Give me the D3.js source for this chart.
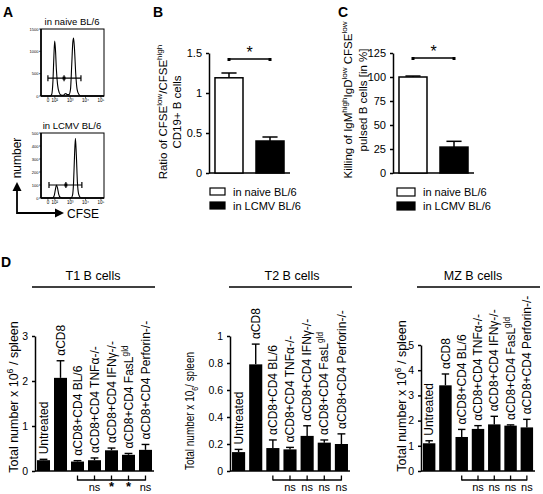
<!DOCTYPE html>
<html><head><meta charset="utf-8">
<script src="https://cdn.jsdelivr.net/npm/d3@7"></script>
<style>
body{margin:0;background:#fff}
svg{display:block}
text{font-family:"Liberation Sans",Arial,sans-serif;fill:#000}
</style>
</head><body>
<svg id="c" width="543" height="494"></svg>
<script>
// ---------------- DATA ----------------
// Panel A: CFSE histograms (x in log10 decades, y = cell count)
const histNaive = [[1.10,0],[1.70,0],[1.80,40],[1.88,350],[1.94,900],[1.99,1230],[2.04,1050],[2.10,600],[2.18,250],[2.28,80],[2.40,20],[2.55,15],[2.65,45],[2.72,55],[2.80,30],[2.92,30],[3.02,150],[3.10,700],[3.17,1200],[3.22,1300],[3.28,1050],[3.36,500],[3.45,150],[3.56,40],[3.70,0],[5.20,0]];
const histLcmv = [[1.10,0],[1.85,0],[1.95,15],[2.03,60],[2.10,100],[2.17,80],[2.25,30],[2.35,5],[2.50,0],[3.05,0],[3.15,20],[3.22,120],[3.28,320],[3.34,460],[3.40,330],[3.47,120],[3.55,30],[3.65,5],[3.75,0],[5.20,0]];
const histXTickVals = [1.55, 2, 3, 4, 5];
const histXTickLabels = ["0", "10²", "10³", "10⁴", "10⁵"];
const histNaiveYTicks = [0, 500, 1000, 1500];
const histLcmvYTicks = [0, 100, 200, 300, 400, 500];
const gateNaive = [1.55, 2.6, 3.7, 400];   // from, marker, to, level
const gateLcmv = [1.62, 2.72, 3.76, 100];
const histTitles = ["in naive BL/6", "in LCMV BL/6"];

// Panels B, C
const groups = ["in naive BL/6", "in LCMV BL/6"];
const ratioValues = [1.19, 0.40];
const ratioErrors = [0.06, 0.05];
const ratioTicks = [0, 0.5, 1, 1.5];
const killValues = [100, 27];
const killErrors = [1, 6];
const killTicks = [0, 25, 50, 75, 100, 125];

// Panel D
const treatments = ["Untreated", "αCD8", "αCD8+CD4 BL/6", "αCD8+CD4 TNFα-/-", "αCD8+CD4 IFNγ-/-", "αCD8+CD4 FasL^{gld}", "αCD8+CD4 Perforin-/-"];
const t1Values = [0.24, 2.07, 0.21, 0.24, 0.46, 0.36, 0.47];
const t1Errors = [0.02, 0.38, 0.02, 0.05, 0.05, 0.03, 0.12];
const t1Ticks = [0, 1, 2, 3];
const t1Sig = ["ns", "*", "*", "ns"];
const t2Values = [0.14, 0.79, 0.17, 0.16, 0.26, 0.21, 0.20];
const t2Errors = [0.02, 0.15, 0.06, 0.015, 0.075, 0.02, 0.075];
const t2Ticks = [0, 0.2, 0.4, 0.6, 0.8, 1];
const t2Sig = ["ns", "ns", "ns", "ns"];
const mzValues = [1.10, 3.40, 1.35, 1.67, 1.85, 1.80, 1.73];
const mzErrors = [0.10, 0.45, 0.30, 0.13, 0.32, 0.03, 0.32];
const mzTicks = [0, 1, 2, 3, 4, 5];
const mzSig = ["ns", "ns", "ns", "ns"];

// ---------------- HELPERS ----------------
const svg = d3.select("#c");

function rich(sel, str, size) {
  const toks = []; const re = /(\^|_)\{([^}]*)\}/g; let last = 0, m;
  while ((m = re.exec(str))) {
    if (m.index > last) toks.push({t: str.slice(last, m.index), k: 0});
    toks.push({t: m[2], k: m[1] === "^" ? 1 : -1});
    last = re.lastIndex;
  }
  if (last < str.length) toks.push({t: str.slice(last), k: 0});
  let cur = 0;
  toks.forEach(tk => {
    const off = tk.k === 1 ? -0.42 * size : tk.k === -1 ? 0.3 * size : 0;
    sel.append("tspan").attr("dy", off - cur).attr("font-size", tk.k ? size * 0.7 : size).text(tk.t);
    cur = off;
  });
  return sel;
}

function rotText(g, cx, cy, str, size, anchor, len) {
  const t = g.append("text")
    .attr("transform", `translate(${cx + 0.35 * size},${cy}) rotate(-90)`)
    .attr("text-anchor", anchor || "middle").attr("font-size", size);
  rich(t, str, size);
  if (len) t.attr("textLength", len).attr("lengthAdjust", "spacingAndGlyphs");
  return t;
}

function panelLabel(x, y, s) {
  svg.append("text").attr("x", x).attr("y", y).attr("font-size", 14).attr("font-weight", "bold").text(s);
}

// ---------------- PANEL A ----------------
panelLabel(3, 17, "A");
const hx = d3.scaleLinear().domain([1.1, 5.2]).range([41, 104]);

function histogram(data, yMax, yTicks, gate, top, bottom, title) {
  const y = d3.scaleLinear().domain([0, yMax]).range([bottom, top]);
  const g = svg.append("g");
  g.append("text").attr("x", 72).attr("y", top - 4).attr("text-anchor", "middle").attr("font-size", 9.5).text(title);
  g.append("rect").attr("x", hx.range()[0]).attr("y", top).attr("width", hx.range()[1] - hx.range()[0])
    .attr("height", bottom - top).attr("fill", "none").attr("stroke", "#000").attr("stroke-width", 1);
  g.append("line").attr("x1", hx.range()[0]).attr("x2", hx.range()[0]).attr("y1", top).attr("y2", bottom)
    .attr("stroke", "#000").attr("stroke-width", 1.6);
  g.append("line").attr("x1", hx.range()[0]).attr("x2", hx.range()[1]).attr("y1", bottom).attr("y2", bottom)
    .attr("stroke", "#000").attr("stroke-width", 1.6);
  yTicks.forEach(v => {
    g.append("line").attr("x1", hx.range()[0] - 2).attr("x2", hx.range()[0]).attr("y1", y(v)).attr("y2", y(v)).attr("stroke", "#000").attr("stroke-width", 0.6);
    g.append("text").attr("x", hx.range()[0] - 2.5).attr("y", y(v) + 1.5).attr("text-anchor", "end").attr("font-size", 4).attr("fill", "#222").text(v);
  });
  histXTickVals.forEach((v, i) => {
    g.append("line").attr("x1", hx(v)).attr("x2", hx(v)).attr("y1", bottom).attr("y2", bottom + 2).attr("stroke", "#000").attr("stroke-width", 0.6);
    g.append("text").attr("x", hx(v)).attr("y", bottom + 6).attr("text-anchor", "middle").attr("font-size", 4.5).attr("fill", "#222").text(histXTickLabels[i]);
  });
  const line = d3.line().x(d => hx(d[0])).y(d => y(d[1])).curve(d3.curveMonotoneX);
  g.append("path").attr("d", line(data)).attr("fill", "none").attr("stroke", "#000").attr("stroke-width", 1.1);
  const gy = y(gate[3]);
  g.append("line").attr("x1", hx(gate[0])).attr("x2", hx(gate[2])).attr("y1", gy).attr("y2", gy).attr("stroke", "#000").attr("stroke-width", 1.2);
  [gate[0], gate[2], gate[1]].forEach(v => g.append("line").attr("x1", hx(v)).attr("x2", hx(v)).attr("y1", gy - 3).attr("y2", gy + 3).attr("stroke", "#000").attr("stroke-width", 1.2));
  g.append("rect").attr("x", hx(gate[1]) - 1.5).attr("y", gy - 1.5).attr("width", 3).attr("height", 3).attr("fill", "#000");
}
histogram(histNaive, 1500, histNaiveYTicks, gateNaive, 29, 96, histTitles[0]);
histogram(histLcmv, 500, histLcmvYTicks, gateLcmv, 133, 198, histTitles[1]);

// axes arrows
svg.append("path").attr("d", "M17,190 L17,213 L56,213").attr("fill", "none").attr("stroke", "#000").attr("stroke-width", 1.8);
svg.append("path").attr("d", "M12.5,191 L17,182 L21.5,191 Z").attr("fill", "#000");
svg.append("path").attr("d", "M55,208.5 L64,213 L55,217.5 Z").attr("fill", "#000");
svg.append("text").attr("x", 67).attr("y", 217.5).attr("font-size", 12).text("CFSE");
rotText(svg, 17, 158, "number", 12);

// ---------------- PANELS B & C ----------------
function twoBar(cfg) {
  const g = svg.append("g");
  const y = d3.scaleLinear().domain(cfg.domain).range([173, 53]);
  const x = d3.scaleBand().domain(groups).range(cfg.xr).paddingInner(0.317).paddingOuter(0.146);
  g.append("g").attr("transform", `translate(${cfg.xr[0]},0)`)
    .call(d3.axisLeft(y).tickValues(cfg.ticks).tickSize(3).tickSizeOuter(0).tickFormat(d3.format("")))
    .call(a => a.selectAll("path,line").attr("stroke-width", 1.5))
    .call(a => a.selectAll("text").attr("font-size", 11).attr("font-family", "Liberation Sans, Arial, sans-serif").attr("dx", -1));
  g.append("line").attr("x1", cfg.xr[0]).attr("x2", cfg.xr[1]).attr("y1", y(0)).attr("y2", y(0)).attr("stroke", "#000").attr("stroke-width", 1.5);
  groups.forEach((k, i) => {
    const v = cfg.values[i], e = cfg.errors[i], cx = x(k) + x.bandwidth() / 2;
    g.append("line").attr("x1", cx).attr("x2", cx).attr("y1", y(v)).attr("y2", y(v + e)).attr("stroke", "#000").attr("stroke-width", 1.5);
    g.append("line").attr("x1", cx - x.bandwidth() * 0.27).attr("x2", cx + x.bandwidth() * 0.27).attr("y1", y(v + e)).attr("y2", y(v + e)).attr("stroke", "#000").attr("stroke-width", 1.5);
    g.append("rect").attr("x", x(k)).attr("y", y(v)).attr("width", x.bandwidth()).attr("height", y(0) - y(v))
      .attr("fill", i ? "#000" : "#fff").attr("stroke", "#000").attr("stroke-width", 1.5);
  });
  const c0 = x(groups[0]) + x.bandwidth() / 2, c1 = x(groups[1]) + x.bandwidth() / 2;
  g.append("line").attr("x1", c0).attr("x2", c1).attr("y1", cfg.sigY).attr("y2", cfg.sigY).attr("stroke", "#000").attr("stroke-width", 1.6);
  [c0, c1].forEach(c => g.append("rect").attr("x", c - 1.5).attr("y", cfg.sigY - 1).attr("width", 3).attr("height", 3).attr("fill", "#000"));
  g.append("text").attr("x", (c0 + c1) / 2).attr("y", cfg.sigY - 1).attr("text-anchor", "middle").attr("font-size", 16).text("*");
  // y label
  cfg.ylabel.forEach((l, i) => rotText(g, cfg.lx[i], cfg.ly, l, cfg.lsize));
  // legend
  groups.forEach((k, i) => {
    g.append("rect").attr("x", cfg.legX).attr("y", 188 + i * 14).attr("width", cfg.legW).attr("height", cfg.legH)
      .attr("fill", i ? "#000" : "#fff").attr("stroke", "#000").attr("stroke-width", 1.2);
    g.append("text").attr("x", cfg.legX + cfg.legW + 8).attr("y", 195.5 + i * 14).attr("font-size", 11).text(k);
  });
}
panelLabel(153, 17, "B");
twoBar({domain: [0, 1.5], ticks: ratioTicks, xr: [209, 290], values: ratioValues, errors: ratioErrors, sigY: 59,
  ylabel: ["Ratio of CFSE^{low}/CFSE^{high}", "CD19+ B cells"], lx: [163, 177], ly: 112, lsize: 11.5,
  legX: 210, legW: 15, legH: 7});
panelLabel(338, 17, "C");
twoBar({domain: [0, 125], ticks: killTicks, xr: [393, 474], values: killValues, errors: killErrors, sigY: 58,
  ylabel: ["Killing of IgM^{high}IgD^{low} CFSE^{low}", "pulsed B cells [in %]"], lx: [348, 363], ly: 100, lsize: 11.5,
  legX: 397, legW: 18, legH: 8});

// ---------------- PANEL D ----------------
panelLabel(1, 267, "D");
function dPanel(cfg) {
  const g = svg.append("g");
  g.append("text").attr("x", cfg.titleX).attr("y", 280).attr("text-anchor", "middle").attr("font-size", 12.5).text(cfg.title);
  g.append("line").attr("x1", cfg.lineX[0]).attr("x2", cfg.lineX[1]).attr("y1", 287).attr("y2", 287).attr("stroke", "#000").attr("stroke-width", 1.3);
  const y = d3.scaleLinear().domain(cfg.domain).range([471, cfg.top]);
  const x = d3.scaleBand().domain(treatments).range(cfg.xr).paddingInner(0.235).paddingOuter(0.118);
  g.append("g").attr("transform", `translate(${cfg.xr[0]},0)`)
    .call(d3.axisLeft(y).tickValues(cfg.ticks).tickSize(3).tickSizeOuter(0).tickFormat(d3.format("")))
    .call(a => a.selectAll("path,line").attr("stroke-width", 1.5))
    .call(a => a.selectAll("text").attr("font-size", 10.5).attr("font-family", "Liberation Sans, Arial, sans-serif").attr("dx", -1));
  g.append("line").attr("x1", cfg.xr[0]).attr("x2", cfg.xr[1]).attr("y1", 471).attr("y2", 471).attr("stroke", "#000").attr("stroke-width", 1.5);
  treatments.forEach((k, i) => {
    const v = cfg.values[i], e = cfg.errors[i], cx = x(k) + x.bandwidth() / 2;
    g.append("line").attr("x1", cx).attr("x2", cx).attr("y1", y(v)).attr("y2", y(v + e)).attr("stroke", "#000").attr("stroke-width", 1.4);
    g.append("line").attr("x1", cx - x.bandwidth() * 0.3).attr("x2", cx + x.bandwidth() * 0.3).attr("y1", y(v + e)).attr("y2", y(v + e)).attr("stroke", "#000").attr("stroke-width", 1.4);
    g.append("rect").attr("x", x(k)).attr("y", y(v)).attr("width", x.bandwidth()).attr("height", 471 - y(v)).attr("fill", "#000");
    rotText(g, cx, y(v + e) - 5, k, 12, "start");
  });
  // bracket
  const cs = treatments.slice(2).map(k => x(k) + x.bandwidth() / 2);
  g.append("line").attr("x1", cs[0]).attr("x2", cs[cs.length - 1]).attr("y1", 480).attr("y2", 480).attr("stroke", "#000").attr("stroke-width", 1.3);
  cs.forEach(c => g.append("line").attr("x1", c).attr("x2", c).attr("y1", 475.5).attr("y2", 480.5).attr("stroke", "#000").attr("stroke-width", 1.3));
  cfg.sig.forEach((s, i) => {
    g.append("text").attr("x", cs[i + 1]).attr("y", s === "*" ? 491.2 : 491).attr("text-anchor", "middle")
      .attr("font-size", s === "*" ? 13 : 11).attr("font-weight", s === "*" ? "bold" : null).text(s);
  });
  rotText(g, cfg.lx, cfg.ly, cfg.ylabel, 12.5, "middle", cfg.llen);
}
dPanel({title: "T1 B cells", titleX: 93, lineX: [32, 155], domain: [0, 3], top: 336, ticks: t1Ticks, xr: [35, 154],
  values: t1Values, errors: t1Errors, sig: t1Sig, ylabel: "Total number x 10^{6} / spleen", lx: 14, ly: 397});
dPanel({title: "T2 B cells", titleX: 292, lineX: [229, 352], domain: [0, 1], top: 336, ticks: t2Ticks, xr: [230, 350],
  values: t2Values, errors: t2Errors, sig: t2Sig, ylabel: "Total number x 10_{6}/ spleen", lx: 190, ly: 411, llen: 118});
dPanel({title: "MZ B cells", titleX: 473, lineX: [417, 540], domain: [0, 5], top: 345, ticks: mzTicks, xr: [421, 535],
  values: mzValues, errors: mzErrors, sig: mzSig, ylabel: "Total number x 10^{6} / spleen", lx: 402, ly: 396});
</script>
</body></html>
